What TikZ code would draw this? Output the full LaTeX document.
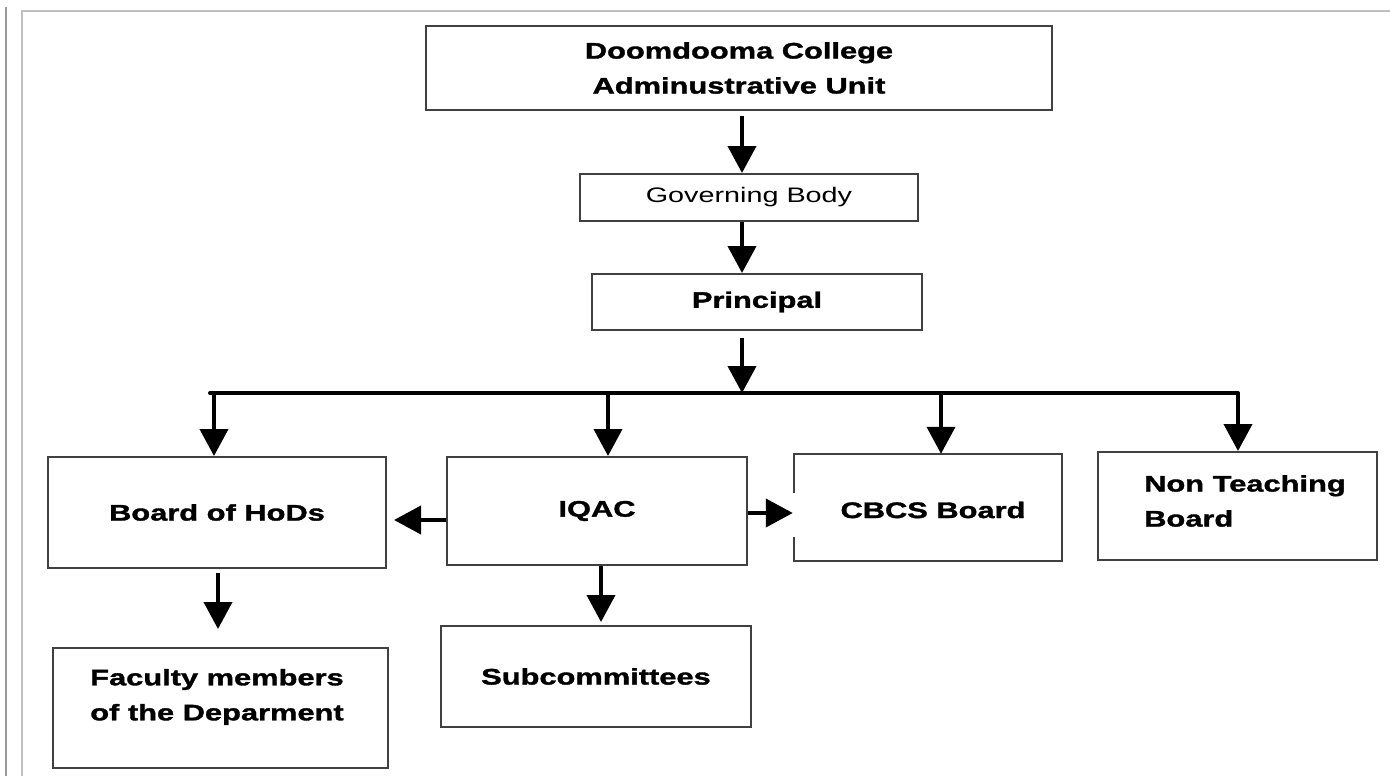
\documentclass[tikz,border=0pt]{standalone}
\usepackage{fontspec}
\setmainfont{Liberation Sans}[FakeStretch=1.37, BoldFeatures={FakeBold=1.5}]
\usetikzlibrary{arrows.meta,calc}
\begin{document}
\begin{tikzpicture}[x=1pt,y=-1pt,
  boxline/.style={draw=black!75, line width=2pt},
  box/.style={boxline, rectangle, inner sep=0pt, align=center,
    font=\bfseries\fontsize{22.5}{35}\selectfont},
  plainbox/.style={rectangle, inner sep=0pt},
  txt/.style={inner sep=0pt, font=\bfseries\fontsize{22.5}{35}\selectfont},
  conn/.style={line width=4pt, -{Triangle[width=28pt,length=27pt]}},
  bus/.style={line width=4pt, line cap=round}]
\useasboundingbox (0,0) rectangle (1390,776);
% frame
\draw[draw=black!40, line width=2pt] (6,7) -- (6,776);
\draw[draw=black!25, line width=1.5pt] (22,776) -- (22,11) -- (1390,11);
% boxes
\node[box, minimum width=626pt, minimum height=84pt] (top) at (739,68) {Doomdooma College\\Adminustrative Unit};
\node[box, font=\fontsize{21}{26}\selectfont, minimum width=338pt, minimum height=47pt] (gb) at (749,197.5) {Governing Body};
\node[box, minimum width=330pt, minimum height=56pt] (prin) at (757,302) {Principal};
\node[box, minimum width=338pt, minimum height=111pt] (hods) at (217,512.5) {Board of HoDs};
\node[box, minimum width=300pt, minimum height=108pt] (iqac) at (597,511) {IQAC};
\node[plainbox, minimum width=268pt, minimum height=107pt] (cbcs) at (928,507.5) {};
\node[txt] (cbcst) at (933,510) {CBCS Board};
\draw[boxline] ($(cbcs.north west)+(0,39)$) -- (cbcs.north west) -- (cbcs.north east) -- (cbcs.south east) -- (cbcs.south west) -- ($(cbcs.south west)+(0,-24)$);
\node[box, minimum width=279pt, minimum height=108pt] (ntb) at (1237.5,506) {};
\node[txt, anchor=west, align=left] (ntbt) at (1144,501) {Non Teaching\\Board};
\node[box, minimum width=335pt, minimum height=120pt] (fac) at (220.5,708) {};
\node[txt, align=center] (fact) at (217,697) {Faculty members\\of the Deparment};
\node[box, minimum width=310pt, minimum height=101pt] (sub) at (596,676.5) {Subcommittees};
% coordinates
\coordinate (sx) at (742,0);
\coordinate (bl) at (210,393);
\coordinate (br) at (1238,393);
\coordinate (d1) at (214,393);
\coordinate (d2) at (608,393);
\coordinate (d3) at (941,393);
\coordinate (d4) at (1238,393);
\coordinate (ly) at (0,520);
\coordinate (ry) at (0,513);
\coordinate (fx) at (218,0);
\coordinate (ix) at (601,0);
% connectors
\draw[conn, shorten <=5pt] (top.south -| sx) -- (gb.north -| sx);
\draw[conn] (gb.south -| sx) -- (prin.north -| sx);
\draw[conn, shorten <=7pt] (prin.south -| sx) -- (bl -| sx);
\draw[bus] (bl) -- (br);
\draw[conn] (d1) -- (d1 |- hods.north);
\draw[conn] (d2) -- (d2 |- iqac.north);
\draw[conn] (d3) -- (d3 |- cbcs.north);
\draw[conn] (d4) -- (d4 |- ntb.north);
\draw[conn, shorten >=7pt] (iqac.west |- ly) -- (hods.east |- ly);
\draw[conn, shorten >=1pt] (iqac.east |- ry) -- (cbcs.west |- ry);
\draw[conn, shorten <=4pt, shorten >=18pt] (hods.south -| fx) -- (fac.north -| fx);
\draw[conn, shorten >=3pt] (iqac.south -| ix) -- (sub.north -| ix);
\end{tikzpicture}
\end{document}
